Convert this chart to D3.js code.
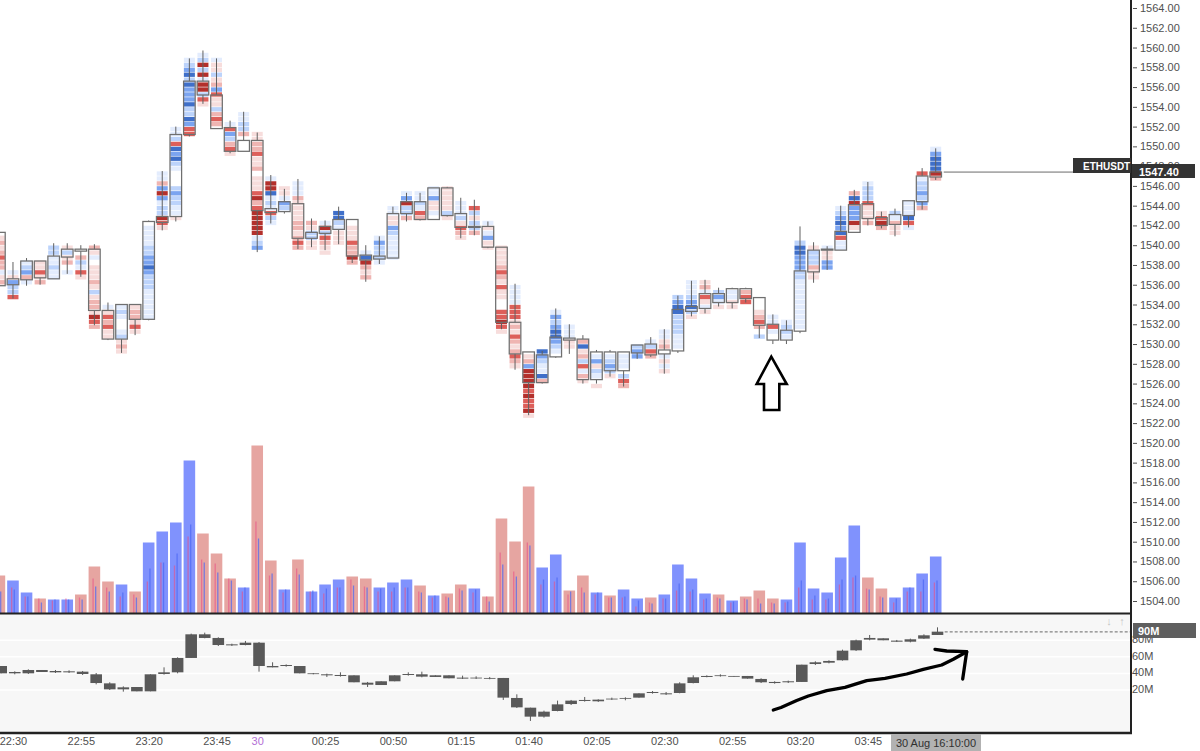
<!DOCTYPE html>
<html>
<head>
<meta charset="utf-8">
<title>ETHUSDT footprint</title>
<script src="https://cdn.jsdelivr.net/npm/d3@7"></script>
<style>
  html, body { margin: 0; padding: 0; background: #fff; }
  svg { display: block; }
  text { font-family: "Liberation Sans", sans-serif; font-size: 11px; }
</style>
</head>
<body>
<div id="chart"></div>
<script>
// Data

var times = ["22:25","22:30","22:35","22:40","22:45","22:50","22:55","23:00","23:05","23:10",
  "23:15","23:20","23:25","23:30","23:35","23:40","23:45","23:50","23:55","00:00",
  "00:05","00:10","00:15","00:20","00:25","00:30","00:35","00:40","00:45","00:50",
  "00:55","01:00","01:05","01:10","01:15","01:20","01:25","01:30","01:35","01:40",
  "01:45","01:50","01:55","02:00","02:05","02:10","02:15","02:20","02:25","02:30",
  "02:35","02:40","02:45","02:50","02:55","03:00","03:05","03:10","03:15","03:20",
  "03:25","03:30","03:35","03:40","03:45","03:50","03:55","04:00","04:05","04:10"];

var timeTicks = ["22:30","22:55","23:20","23:45","00:00","00:25","00:50","01:15","01:40","02:05","02:30","02:55","03:20","03:45"];
var priceTicks = [1504,1506,1508,1510,1512,1514,1516,1518,1520,1522,1524,1526,1528,1530,1532,1534,1536,1538,1540,1542,1544,1546,1548,1550,1552,1554,1556,1558,1560,1562,1564];
var deltaTicks = [20,40,60,80];

var bodyTop = [1541.3,1536.6,1538.4,1538.4,1538.9,1539.6,1539.6,1539.6,1533.4,1534.0,
  1534.0,1542.4,1542.9,1551.2,1556.6,1556.6,1555.2,1551.9,1550.6,1550.6,
  1543.7,1544.4,1544.2,1541.3,1541.9,1542.6,1542.6,1539.0,1538.9,1543.2,
  1544.4,1544.4,1545.8,1545.8,1543.2,1541.9,1541.9,1539.8,1532.2,1529.2,
  1528.9,1530.7,1530.6,1530.5,1529.2,1529.2,1529.2,1529.9,1530.0,1529.4,
  1533.5,1533.8,1535.1,1535.1,1535.6,1535.6,1534.7,1532.0,1531.4,1537.4,
  1539.5,1539.6,1541.4,1544.1,1544.2,1542.8,1543.1,1544.5,1547.0,1547.4];
var bodyBottom = [1535.9,1536.0,1536.5,1536.7,1536.6,1538.8,1539.4,1533.4,1530.5,1530.5,
  1532.5,1532.5,1542.3,1542.9,1551.2,1555.2,1551.8,1549.5,1549.5,1543.5,
  1543.3,1543.4,1540.7,1540.7,1541.2,1541.6,1538.9,1538.5,1538.6,1538.7,
  1543.2,1542.6,1542.6,1543.0,1541.8,1541.8,1539.8,1532.2,1529.0,1526.1,
  1526.1,1528.7,1530.4,1526.4,1526.4,1527.3,1527.3,1529.1,1528.9,1529.0,
  1529.3,1533.3,1533.6,1534.2,1534.2,1534.6,1531.9,1530.4,1530.4,1531.3,
  1537.3,1539.5,1539.5,1541.3,1542.7,1542.0,1542.1,1543.0,1544.4,1546.9];
var wickTop = [1541.3,1538.3,1538.7,1538.4,1540.2,1540.2,1540.0,1540.1,1534.2,1534.0,
  1534.0,1542.5,1547.5,1552.0,1558.9,1559.7,1558.9,1552.6,1553.5,1551.4,
  1547.1,1545.7,1546.7,1542.7,1542.5,1543.9,1542.6,1540.0,1540.9,1543.9,
  1545.3,1545.3,1545.8,1545.9,1544.8,1544.6,1542.4,1539.8,1536.1,1529.2,
  1529.3,1533.6,1532.0,1530.9,1529.4,1529.4,1529.2,1529.9,1530.7,1531.5,
  1534.9,1536.4,1536.5,1535.7,1535.7,1535.7,1534.7,1533.0,1532.4,1541.9,
  1540.3,1539.9,1544.0,1545.6,1546.4,1543.4,1543.7,1544.5,1547.8,1549.8];
var wickBottom = [1535.9,1534.6,1535.9,1536.0,1536.6,1537.1,1536.8,1531.9,1530.4,1529.1,
  1530.9,1532.4,1541.5,1542.4,1551.0,1554.3,1551.8,1549.3,1549.5,1539.3,
  1542.2,1543.2,1539.6,1539.8,1539.5,1540.1,1538.2,1536.3,1538.1,1538.7,
  1542.4,1542.5,1542.6,1542.9,1540.7,1541.0,1539.7,1531.5,1527.4,1522.8,
  1526.0,1528.6,1529.0,1526.0,1526.0,1526.7,1525.7,1528.5,1528.7,1527.0,
  1529.1,1532.8,1533.1,1533.8,1533.6,1534.2,1530.6,1530.0,1530.0,1531.1,
  1536.2,1537.5,1539.5,1541.3,1542.0,1541.7,1540.9,1541.8,1543.6,1546.6];

// footprint: price of the lowest row, then one letter per half dollar going up
// ABCD = red light to dark, abcd = blue light to dark, dot = empty
var rowLow = [1536,1534.5,1536,1536,1536.5,1537,1536.5,1531.5,1530.5,1529,
  1531,1532.5,1541.5,1542.5,1551,1554,1552,1549,1550.5,1539.5,
  1542,1543.5,1539.5,1539.5,1539,1540,1538,1536.5,1538,1538.5,
  1542.5,1542.5,1543,1542.5,1540.5,1541,1539.5,1531,1527.5,1522.5,
  1526,1529,1529.5,1526,1525.5,1526.5,1525.5,1528.5,1528.5,1527,
  1529.5,1532.5,1533,1533.5,1533.5,1534,1530.5,1531,1530.5,1531.5,
  1536.5,1537.5,1539.5,1541.5,1542,1541.5,1541,1541.5,1543.5,1546.5];
var rows = ["BAaBBCBABA","CbbcAa","aBcba","BACAA","aabaabb","a.BAbA","ACabB","BCDABBAbABAAA.aAB","AACBCAa","ABAba..aba",
  "ACABBA","aaaaaabbbcdccbbaaaa.","ACDbbacDcBaa","Aaabbcb...abdcdCbaa","CCcdbbdcccdbdcba","ACbDDaDbDba","BCBbAACcBAbAAa","ACBbcCa",".Bbbaa","cbaDDDDDCBDCAAA.BAACBBAA",
  "abCabadDDa","bcaAA","BCBABBAAAABaaa","AAbbAB","AABCbDa","AAAabdd","BDBBCAAA.","BABDda","abbbca","aaaaabcAAaa",
  "BbbDca","BCabaa","aAAcaa","AbAAAAA","ABCAbaaa","BbbAbC","AAcaAa","ACDCC..AACABCBAAAA","ABCBABCABACCCaaaa","ADCCDCDDDDcBA",
  "Bdaabcd","abcddcbca","AAaaa","ABaCbBAdB","A.abAca","Abcba","BCb.aaa","ccb","BCba","AaAa.BAaa",
  "aaabbbbddcb","Abdcbaaa","AaACaBA","Aacb","AAaa","CCB","b.BCBA","aCaa","abba","aaaaaaaaaabbcccddb",
  "AABbbbA","ccAAa","aaCdcdcba","ADcccDdB","BAAACbbba","BDCA","AABab","aCdaaa","BcbcbbaC","BDdddca"];

var volume = [38,33,21,15,14,14,19,47,32,29,
  22,71,82,91,153,80,60,35,26,168,
  53,24,54,22,29,34,37,35,26,31,
  34,28,18,20,29,25,17,95,72,127,
  46,59,23,38,21,18,24,15,16,19,
  49,35,20,19,13,17,23,15,14,71,
  25,21,56,88,36,25,16,26,40,57];
var volumeSide = ["r","b","b","r","b","b","r","r","r","b",
  "r","b","b","b","b","r","r","r","b","r",
  "r","b","r","b","b","b","r","r","b","b",
  "b","r","b","r","r","b","r","r","r","r",
  "b","b","r","r","b","r","b","b","r","b",
  "b","b","b","r","b","r","r","r","b","b",
  "b","b","b","b","r","r","b","b","b","b"];
var sellVolume = [17,26,17,15,13,15,16,35,26,17,
  19,32,51,48,77,54,50,35,22,92,
  38,21,45,22,20,26,34,27,22,22,
  26,22,16,17,25,21,17,61,42,71,
  29,32,19,26,19,16,16,7,11,15,
  23,22,14,16,11,15,15,11,11,26,
  14,14,29,36,25,17,11,22,22,31];
var buyVolume = [22,24,17,11,14,14,14,27,22,21,
  16,45,51,60,89,51,41,33,26,75,
  40,24,39,23,25,26,28,26,25,26,
  26,21,18,16,23,24,12,49,37,68,
  34,36,22,21,21,16,17,13,10,15,
  30,24,15,15,12,14,10,10,12,33,
  18,15,34,38,24,16,15,26,34,33];

var deltaTop = [48.9,41.7,44.1,44.1,42.9,42.5,42.1,38.9,28.0,23.2,
  23.6,38.9,41.3,58.6,87.1,87.1,82.7,75.0,77.0,77.0,
  48.9,50.1,48.9,40.1,38.9,38.1,37.7,28.8,30.5,37.7,
  39.3,38.9,37.7,37.7,34.9,34.9,34.5,34.5,10.4,-1.3,
  -6.1,2.7,7.2,8.0,8.4,9.6,10.4,16.0,17.6,16.0,
  28.0,35.3,36.9,37.7,36.9,36.9,33.3,29.7,30.5,50.5,
  53.4,55.0,67.4,79.9,82.7,82.3,79.5,81.1,85.9,90.3];
var deltaBottom = [40.1,40.1,40.1,41.7,41.3,41.3,39.3,28.4,20.8,20.8,
  18.4,18.4,39.3,41.3,58.6,82.7,74.2,73.8,74.2,48.9,
  47.3,48.9,40.1,39.3,37.7,36.9,29.3,26.4,26.0,30.5,
  38.1,36.1,35.7,34.1,33.7,34.1,33.7,10.8,-0.9,-12.1,
  -12.1,-5.3,3.1,6.8,6.4,8.8,9.6,10.8,16.4,14.8,
  16.4,28.4,35.7,36.9,36.1,33.7,29.3,28.4,29.3,29.7,
  51.3,52.9,55.8,67.8,80.7,79.9,78.2,78.2,81.9,86.3];
var deltaHigh = [48.9,42.5,44.9,44.1,44.1,43.7,42.9,40.5,29.3,24.4,
  23.6,38.9,47.3,59.4,87.9,89.1,83.5,75.8,79.1,77.8,
  53.4,50.9,48.9,40.5,39.7,41.3,37.7,29.7,30.5,37.7,
  41.3,42.1,37.7,37.7,37.3,36.5,35.7,34.5,14.8,-1.3,
  -4.9,7.2,8.0,11.6,8.8,10.8,11.2,16.0,18.8,17.6,
  29.3,37.7,37.7,38.9,36.9,36.9,34.1,30.5,31.3,50.5,
  54.6,55.8,68.6,80.7,86.3,82.3,80.3,81.9,87.1,95.5];
var deltaLow = [40.1,38.9,39.3,41.7,40.5,40.5,38.1,26.8,20.0,18.0,
  18.4,18.4,38.5,40.1,58.6,82.3,73.0,73.0,73.8,42.1,
  47.3,48.1,40.1,38.9,35.7,36.1,29.3,23.6,26.0,30.5,
  37.3,35.3,35.7,34.1,33.3,33.3,32.9,8.0,-1.7,-17.3,
  -13.3,-5.7,1.9,6.0,5.6,8.0,7.6,10.8,15.6,14.0,
  16.0,28.0,35.3,36.1,36.1,33.7,28.4,27.6,28.4,29.7,
  50.1,52.1,55.4,67.0,79.9,79.9,77.8,77.4,81.5,86.3];

var lastPrice = 1547.40;
var lastDelta = 90;
var symbol = "ETHUSDT";
var crosshairTime = "30 Aug 16:10:00";

// the two things drawn by hand on the screenshot
var handArrowUp = [[771.3,356.7],[756.7,384],[764,384],[764,410],[779.3,410],[779.3,384],[786.7,384]];
var handLine = [[773.3,710],[781,707.5],[796.7,700.5],[808.3,696],[826.7,690.7],[845,687.3],[866.7,680.7],[885,678.3],[906.7,674],[923.3,669.3],[941.7,665],[953.3,659.3],[966.7,651.7]];
var handHead = [[935,649.3],[946.7,651],[966.7,651.7],[965,663.3],[962.7,679]];

// SVG Dimensions
var svgWidth = 1200;
var svgHeight = 751;
var axisX = 1131;
var paneTop = 613.5;
var paneBottom = 733;
var candleWidth = 11.6;

var svg = d3.select("#chart").append("svg")
  .attr("width", svgWidth)
  .attr("height", svgHeight);

svg.append("defs").append("clipPath").attr("id", "plot")
  .append("rect").attr("width", axisX).attr("height", svgHeight);

// Scales
var x = d3.scalePoint().domain(times).range([-0.6, 935.7]);
var yPrice = d3.scaleLinear().domain([1504, 1564]).range([601, 8]);
var yVolume = d3.scaleLinear().domain([0, 168]).range([paneTop, paneTop - 168]);
var yDelta = d3.scaleLinear().domain([0, 90]).range([706.6, 631.9]);
var deltaShift = 1.8; // lower pane sits a little to the right in the screenshot

var rowColor = d3.scaleOrdinal()
  .domain(["A","B","C","D","a","b","c","d"])
  .range(["#f7dddc","#efb5b2","#dd5f5a","#b3302c","#e3ecfd","#bcd3fb","#7ba4f0","#3f6fc9"]);

var plot = svg.append("g").attr("clip-path", "url(#plot)");

// lower pane
plot.append("rect")
  .attr("x", 0).attr("y", paneTop)
  .attr("width", axisX).attr("height", paneBottom - paneTop)
  .attr("fill", "#f7f7f7");

plot.selectAll(".delta-grid").data(deltaTicks).enter().append("line")
  .attr("class", "delta-grid")
  .attr("x1", 0).attr("x2", axisX)
  .attr("y1", d => yDelta(d)).attr("y2", d => yDelta(d))
  .attr("stroke", "#ffffff").attr("stroke-width", 1.5);

// volume bars
plot.selectAll(".vol").data(volume).enter().append("rect")
  .attr("class", "vol")
  .attr("x", (d, i) => x(times[i]) - candleWidth / 2)
  .attr("y", d => yVolume(d))
  .attr("width", candleWidth)
  .attr("height", d => yVolume(0) - yVolume(d))
  .attr("fill", (d, i) => volumeSide[i] == "b" ? "#8092fd" : "#e6a5a1");

plot.selectAll(".sell").data(sellVolume).enter().append("line")
  .attr("class", "sell")
  .attr("x1", (d, i) => x(times[i]) - 1.3).attr("x2", (d, i) => x(times[i]) - 1.3)
  .attr("y1", d => yVolume(d)).attr("y2", yVolume(0))
  .attr("stroke", "#ea4f86").attr("stroke-opacity", 0.6).attr("stroke-width", 1.3);

plot.selectAll(".buy").data(buyVolume).enter().append("line")
  .attr("class", "buy")
  .attr("x1", (d, i) => x(times[i]) + 1.3).attr("x2", (d, i) => x(times[i]) + 1.3)
  .attr("y1", d => yVolume(d)).attr("y2", yVolume(0))
  .attr("stroke", "#4a66f2").attr("stroke-opacity", 0.7).attr("stroke-width", 1.3);

// footprint rows, a touch soft like the screenshot
var cells = [];
rows.forEach(function (text, i) {
  text.split("").forEach(function (level, k) {
    if (level != ".") cells.push({ time: times[i], price: rowLow[i] + k * 0.5, level: level });
  });
});

var footprint = plot.append("g").style("filter", "blur(0.35px)");

footprint.selectAll(".cell").data(cells).enter().append("rect")
  .attr("class", "cell")
  .attr("x", d => x(d.time) - candleWidth / 2 + 0.3)
  .attr("y", d => yPrice(d.price + 0.5) + 0.3)
  .attr("width", candleWidth - 0.6)
  .attr("height", d => yPrice(d.price) - yPrice(d.price + 0.5) - 0.6)
  .attr("fill", d => rowColor(d.level));

// wicks stop at the body, the body itself is hollow
footprint.selectAll(".wick-up").data(times).enter().append("line")
  .attr("class", "wick-up")
  .attr("x1", d => x(d)).attr("x2", d => x(d))
  .attr("y1", (d, i) => yPrice(wickTop[i])).attr("y2", (d, i) => yPrice(bodyTop[i]))
  .attr("stroke", "#606060").attr("stroke-width", 1);

footprint.selectAll(".wick-down").data(times).enter().append("line")
  .attr("class", "wick-down")
  .attr("x1", d => x(d)).attr("x2", d => x(d))
  .attr("y1", (d, i) => yPrice(bodyBottom[i])).attr("y2", (d, i) => yPrice(wickBottom[i]))
  .attr("stroke", "#606060").attr("stroke-width", 1);

footprint.selectAll(".body").data(times).enter().append("rect")
  .attr("class", "body")
  .attr("x", d => x(d) - candleWidth / 2)
  .attr("y", (d, i) => yPrice(bodyTop[i]))
  .attr("width", candleWidth)
  .attr("height", (d, i) => yPrice(bodyBottom[i]) - yPrice(bodyTop[i]))
  .attr("fill", "none")
  .attr("stroke", "#6f6f6f").attr("stroke-width", 1.25);

// last price line
plot.append("line")
  .attr("x1", x(times[69]) + 8).attr("x2", 1074)
  .attr("y1", yPrice(lastPrice)).attr("y2", yPrice(lastPrice))
  .attr("stroke", "#6a6a6a").attr("stroke-width", 1);

// delta candles
plot.selectAll(".delta-wick").data(times).enter().append("line")
  .attr("class", "delta-wick")
  .attr("x1", d => x(d) + deltaShift).attr("x2", d => x(d) + deltaShift)
  .attr("y1", (d, i) => yDelta(deltaHigh[i])).attr("y2", (d, i) => yDelta(deltaLow[i]))
  .attr("stroke", "#5a5a5a").attr("stroke-width", 1);

plot.selectAll(".delta-body").data(times).enter().append("rect")
  .attr("class", "delta-body")
  .attr("x", d => x(d) + deltaShift - candleWidth / 2)
  .attr("y", (d, i) => yDelta(deltaTop[i]))
  .attr("width", candleWidth)
  .attr("height", (d, i) => Math.max(0.8, yDelta(deltaBottom[i]) - yDelta(deltaTop[i])))
  .attr("fill", "#595959");

plot.append("line")
  .attr("x1", x(times[69]) + 9).attr("x2", axisX)
  .attr("y1", yDelta(lastDelta)).attr("y2", yDelta(lastDelta))
  .attr("stroke", "#666").attr("stroke-dasharray", "3,2");

// small pane arrows
plot.append("text").attr("x", 1109).attr("y", 625).attr("text-anchor", "middle")
  .attr("fill", "#c4c4c4").text("↓");
plot.append("text").attr("x", 1122).attr("y", 625).attr("text-anchor", "middle")
  .attr("fill", "#c4c4c4").text("↑");

// frame lines
svg.append("line").attr("x1", 0).attr("x2", axisX + 1).attr("y1", paneTop).attr("y2", paneTop)
  .attr("stroke", "#222").attr("stroke-width", 2);
svg.append("line").attr("x1", 0).attr("x2", axisX + 1).attr("y1", paneBottom).attr("y2", paneBottom)
  .attr("stroke", "#222").attr("stroke-width", 2.5);
svg.append("line").attr("x1", axisX).attr("x2", axisX).attr("y1", 0).attr("y2", paneBottom + 1)
  .attr("stroke", "#222").attr("stroke-width", 2);

// Axes
var priceAxis = d3.axisRight(yPrice)
  .tickValues(priceTicks)
  .tickFormat(d3.format(".2f"))
  .tickSize(4)
  .tickPadding(3);
var priceGroup = svg.append("g").attr("transform", `translate(${axisX + 2},0)`).call(priceAxis);

var deltaAxis = d3.axisRight(yDelta)
  .tickValues(deltaTicks)
  .tickFormat(d => d + "M")
  .tickSize(0)
  .tickPadding(0);
var deltaGroup = svg.append("g").attr("transform", `translate(${axisX + 1},-1)`).call(deltaAxis);

var timeAxis = d3.axisBottom(x)
  .tickValues(timeTicks)
  .tickFormat(d => d == "00:00" ? "30" : d)
  .tickSize(0)
  .tickPadding(0);
var timeGroup = svg.append("g").attr("transform", "translate(0,737)").call(timeAxis);

[priceGroup, deltaGroup, timeGroup].forEach(function (g) {
  g.select(".domain").remove();
  g.attr("font-family", null).attr("font-size", null);
  g.selectAll("text").attr("fill", "#505050");
  g.selectAll("line").attr("stroke", "#505050");
});
timeGroup.selectAll("text").filter(d => d == "00:00").attr("fill", "#b36fd6");

// Price and symbol tags
svg.append("rect").attr("x", 1073).attr("y", 158).attr("width", 58).attr("height", 15).attr("fill", "#333333");
svg.append("text").attr("x", 1083).attr("y", 169.5).attr("fill", "#fff").attr("font-weight", "bold").style("font-size", "10px").text(symbol);
svg.append("rect").attr("x", 1132).attr("y", 164).attr("width", 63).attr("height", 14).attr("fill", "#333333");
svg.append("text").attr("x", 1139).attr("y", 176).attr("fill", "#fff").attr("font-weight", "bold").text(d3.format(".2f")(lastPrice));

svg.append("rect").attr("x", 1133).attr("y", 623).attr("width", 63).attr("height", 15).attr("fill", "#5f5f5f");
svg.append("text").attr("x", 1138).attr("y", 634.5).attr("fill", "#fff").attr("font-weight", "bold").text(lastDelta + "M");

svg.append("rect").attr("x", 891).attr("y", 734).attr("width", 90).attr("height", 17).attr("fill", "#b2b2b2");
svg.append("text").attr("x", 936).attr("y", 747).attr("text-anchor", "middle").attr("fill", "#303030").text(crosshairTime);

// Hand drawn annotations
var drawLine = d3.line().curve(d3.curveLinear);
svg.append("path")
  .attr("d", drawLine(handArrowUp) + "Z")
  .attr("fill", "#fff").attr("stroke", "#000").attr("stroke-width", 2.6);
svg.append("path")
  .attr("d", drawLine(handLine))
  .attr("fill", "none").attr("stroke", "#000").attr("stroke-width", 3.3).attr("stroke-linecap", "round").attr("stroke-linejoin", "round");
svg.append("path")
  .attr("d", drawLine(handHead))
  .attr("fill", "none").attr("stroke", "#000").attr("stroke-width", 3.3).attr("stroke-linecap", "round").attr("stroke-linejoin", "round");
</script>
</body>
</html>
